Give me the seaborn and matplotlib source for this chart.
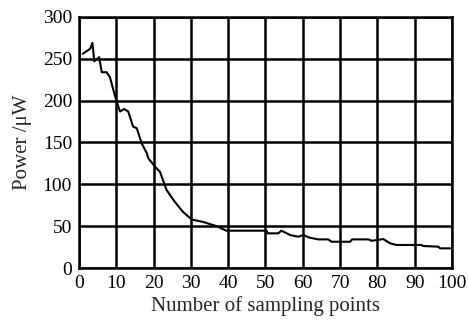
import matplotlib
matplotlib.use("Agg")
import matplotlib.pyplot as plt
import seaborn as sns
import pandas as pd

# values
sample_x = [1, 2, 3, 3.6, 4.1, 5.4, 6.1, 7.4, 8.3, 9.2, 10.1, 11.0, 12.1, 13.2,
            14.5, 15.5, 16.8, 18.2, 18.6, 20.4, 21.7, 23.5, 25.7, 27.9, 30.2,
            33.3, 36.9, 39.5, 50.3, 50.6, 53.4, 54.3, 56.6, 58.8, 60.1, 61.9,
            64.1, 66.8, 67.7, 72.7, 73.2, 77.6, 78.5, 79.8, 81.6, 83.4, 85.1,
            91.8, 92.2, 96.3, 96.8, 99.6]
power = [256, 259, 262, 269, 247, 252, 234, 234, 228, 213, 199, 187, 190, 187,
         169, 167, 149, 137, 131, 121, 115, 93, 79, 67, 58,
         55, 50, 44.6, 44.6, 41.4, 41.4, 44.6, 39.4, 37.4, 39.4, 36.2,
         34.2, 34.2, 31.4, 31.4, 34.2, 34.2, 32.6, 33.4, 34.6, 29.5, 27.5,
         27.5, 26.3, 25.5, 23.5, 23.5]

df = pd.DataFrame({"x": sample_x, "p": power})

sns.set_style("white")
plt.rcParams['font.family'] = ['Liberation Serif', 'DejaVu Serif']

fig = plt.figure(figsize=(4.68, 3.21), dpi=100)
ax = fig.add_axes([0.1688, 0.1651, 0.797, 0.782])

sns.lineplot(data=df, x="x", y="p", color="black", linewidth=1.5, ax=ax)

ax.set_xlim(0, 100)
ax.set_ylim(0, 300)
ax.set_xticks(range(0, 101, 10))
ax.set_yticks(range(0, 301, 50))
ax.grid(True, color="black", linewidth=1.8)
for s in ax.spines.values():
    s.set_color("black")
    s.set_linewidth(1.8)
ax.tick_params(length=0, labelsize=14, colors="black")
ax.tick_params(axis="x", pad=5)
ax.tick_params(axis="y", pad=5)
ax.set_xlabel("Number of sampling points", fontsize=15, labelpad=3)
ax.set_ylabel("Power /\u03bcW", fontsize=15, labelpad=8)

fig.savefig("out.png", dpi=100)
